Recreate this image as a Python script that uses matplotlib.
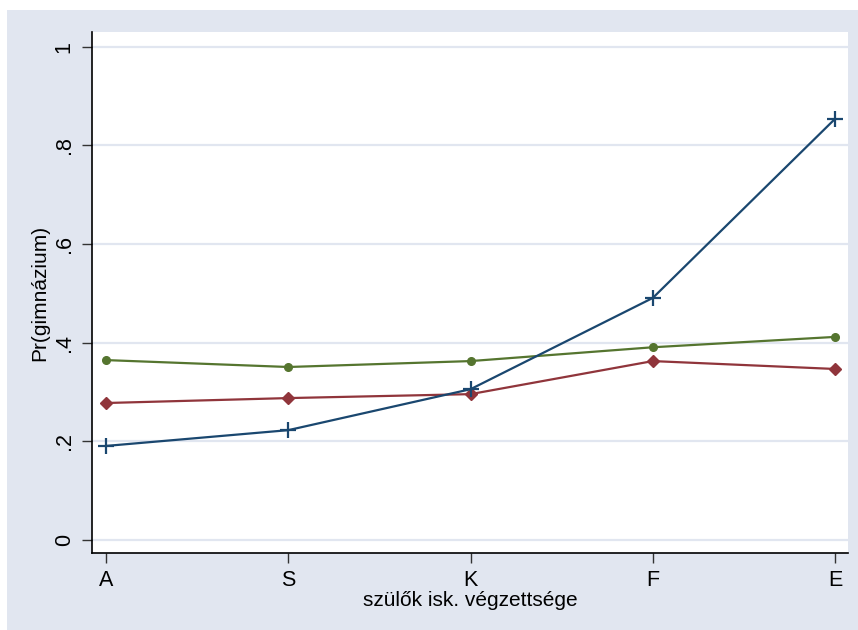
import matplotlib
matplotlib.use("Agg")
import matplotlib.pyplot as plt
from matplotlib.patches import Rectangle

categories = ["A", "S", "K", "F", "E"]
series_blue = [0.191, 0.223, 0.306, 0.491, 0.854]
series_red = [0.278, 0.288, 0.296, 0.363, 0.347]
series_green = [0.365, 0.351, 0.363, 0.391, 0.412]
yticks = [0, 0.2, 0.4, 0.6, 0.8, 1.0]
ytick_labels = ["0", ".2", ".4", ".6", ".8", "1"]

plt.rcParams['font.family'] = ['Liberation Sans', 'DejaVu Sans']

W, H = 858, 630
fig = plt.figure(figsize=(W / 100, H / 100), dpi=100)
fig.patch.set_facecolor("white")
bg = "#E1E6F0"
fig.patches.append(Rectangle((7 / W, 0), 1 - 7 / W, 1 - 10 / H, transform=fig.transFigure,
                             facecolor=bg, edgecolor="none", zorder=-10))

left, right, top, bottom = 92, 848, 32, 553
ax = fig.add_axes([left / W, 1 - bottom / H, (right - left) / W, (bottom - top) / H])
ax.set_facecolor("white")

x = list(range(len(categories)))
ax.plot(x, series_green, color="#55752F", lw=1.6, marker="o", ms=5.5, zorder=3)
ax.plot(x, series_red, color="#90353B", lw=1.6, marker="D", ms=6.5, zorder=3)
ax.plot(x, series_blue, color="#1A476F", lw=1.6, marker="+", ms=11, mew=1.6, zorder=4)

ax.set_xlim(-0.077, 4.071)
ax.set_ylim(-0.026, 1.030)
ax.set_xticks(x)
ax.set_xticklabels(categories, fontsize=15.5)
ax.set_yticks(yticks)
ax.set_yticklabels(ytick_labels, fontsize=15.5, rotation=90, va="center")
ax.yaxis.grid(True, color="#E1E6F0", lw=1.6)
ax.set_axisbelow(True)
for s in ["top", "right"]:
    ax.spines[s].set_visible(False)
for s in ["left", "bottom"]:
    ax.spines[s].set_color("#000000")
    ax.spines[s].set_linewidth(1.2)
ax.tick_params(axis="both", direction="out", length=7, width=1.0, color="#333333", pad=5.5)
ax.set_xlabel("szülők isk. végzettsége", fontsize=15, labelpad=0)
ax.set_ylabel("Pr(gimnázium)", fontsize=15, labelpad=3)

fig.savefig("out.png", dpi=100, facecolor="white")
